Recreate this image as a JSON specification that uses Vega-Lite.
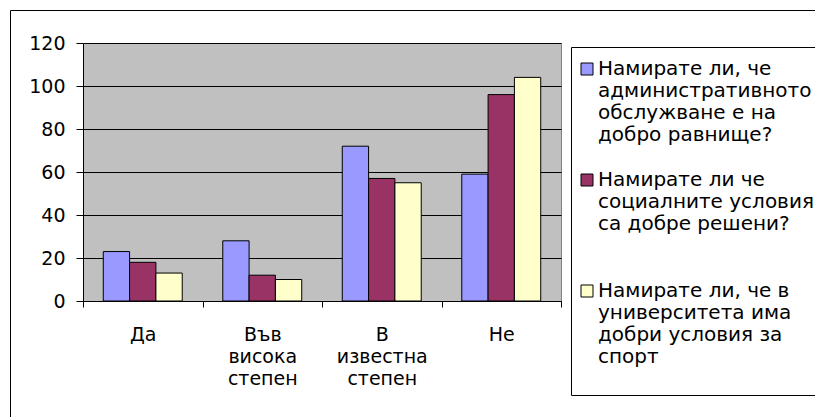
{
  "$schema": "https://vega.github.io/schema/vega-lite/v6.json",
  "autosize": "none",
  "width": 478,
  "height": 258,
  "padding": {"left": 83, "top": 43, "right": 254, "bottom": 116},
  "background": "white",
  "config": {
    "font": "DejaVu Sans",
    "view": {"fill": "#C0C0C0", "stroke": "#808080"},
    "style": {"guide-label": {"lineHeight": 22}}
  },
  "data": {
    "values": [
      {"answer": "Да", "series": "Намирате ли, че административното обслужване е на добро равнище?", "value": 23},
      {"answer": "Да", "series": "Намирате ли че социалните условия са добре решени?", "value": 18},
      {"answer": "Да", "series": "Намирате ли, че в университета има добри условия за спорт", "value": 13},
      {"answer": "Във висока степен", "series": "Намирате ли, че административното обслужване е на добро равнище?", "value": 28},
      {"answer": "Във висока степен", "series": "Намирате ли че социалните условия са добре решени?", "value": 12},
      {"answer": "Във висока степен", "series": "Намирате ли, че в университета има добри условия за спорт", "value": 10},
      {"answer": "В известна степен", "series": "Намирате ли, че административното обслужване е на добро равнище?", "value": 72},
      {"answer": "В известна степен", "series": "Намирате ли че социалните условия са добре решени?", "value": 57},
      {"answer": "В известна степен", "series": "Намирате ли, че в университета има добри условия за спорт", "value": 55},
      {"answer": "Не", "series": "Намирате ли, че административното обслужване е на добро равнище?", "value": 59},
      {"answer": "Не", "series": "Намирате ли че социалните условия са добре решени?", "value": 96},
      {"answer": "Не", "series": "Намирате ли, че в университета има добри условия за спорт", "value": 104}
    ]
  },
  "mark": {"type": "bar", "stroke": "#000000", "strokeWidth": 1},
  "encoding": {
    "x": {
      "field": "answer",
      "type": "nominal",
      "sort": ["Да", "Във висока степен", "В известна степен", "Не"],
      "scale": {"paddingInner": 0, "paddingOuter": 0},
      "axis": {
        "title": null,
        "labelAngle": 0,
        "labelExpr": "split(datum.label, ' ')",
        "labelFontSize": 19,
        "labelColor": "#000000",
        "labelBaseline": "top",
        "labelPadding": 18,
        "tickBand": "extent",
        "tickSize": 6,
        "tickColor": "#000000",
        "domainColor": "#000000",
        "labelLimit": 300
      }
    },
    "xOffset": {
      "field": "series",
      "type": "nominal",
      "sort": ["Намирате ли, че административното обслужване е на добро равнище?", "Намирате ли че социалните условия са добре решени?", "Намирате ли, че в университета има добри условия за спорт"],
      "scale": {"paddingInner": 0, "paddingOuter": 0.77}
    },
    "y": {
      "field": "value",
      "type": "quantitative",
      "scale": {"domain": [0, 120], "nice": false},
      "axis": {
        "title": null,
        "values": [0, 20, 40, 60, 80, 100, 120],
        "labelFontSize": 19,
        "labelColor": "#000000",
        "labelPadding": 11,
        "tickSize": 7,
        "tickColor": "#000000",
        "domainColor": "#000000",
        "gridColor": "#000000",
        "gridOpacity": 1
      }
    },
    "color": {
      "field": "series",
      "type": "nominal",
      "scale": {
        "domain": ["Намирате ли, че административното обслужване е на добро равнище?", "Намирате ли че социалните условия са добре решени?", "Намирате ли, че в университета има добри условия за спорт"],
        "range": ["#9999FF", "#993366", "#FFFFCC"]
      },
      "legend": {
        "orient": "none",
        "legendX": 488,
        "legendY": 4,
        "title": " ",
        "titleFontSize": 2,
        "titlePadding": 4,
        "padding": 6,
        "strokeColor": "#000000",
        "symbolType": "square",
        "symbolSize": 144,
        "symbolStrokeColor": "#000000",
        "symbolStrokeWidth": 1,
        "labelFontSize": 20,
        "labelColor": "#000000",
        "labelBaseline": "top",
        "labelOffset": 1,
        "labelLimit": 400,
        "rowPadding": 25,
        "labelExpr": "datum.label == 'Намирате ли, че административното обслужване е на добро равнище?' ? ['Намирате ли, че', 'административното', 'обслужване е на', 'добро равнище?'] : datum.label == 'Намирате ли че социалните условия са добре решени?' ? ['Намирате ли че', 'социалните условия\u00a0\u00a0\u00a0\u00a0', 'са добре решени?', ''] : ['Намирате ли, че в', 'университета има', 'добри условия за', 'спорт', '']",
        "encode": {"labels": {"update": {"dy": {"value": -10}}}}
      }
    },
    "opacity": {
      "datum": "рамка",
      "type": "nominal",
      "scale": {"domain": ["рамка"], "range": [1]},
      "legend": {
        "orient": "none",
        "legendX": -73,
        "legendY": -33,
        "title": null,
        "padding": 430,
        "strokeColor": "#000000",
        "symbolOpacity": 0,
        "labelOpacity": 0,
        "labelExpr": "''"
      }
    }
  }
}
